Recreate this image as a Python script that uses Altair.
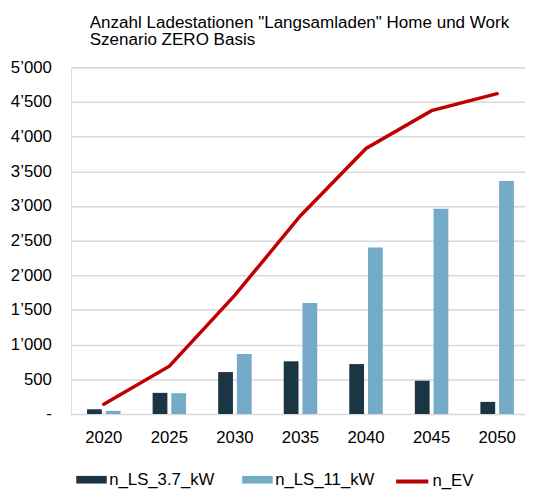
import altair as alt
import pandas as pd

years = ["2020", "2025", "2030", "2035", "2040", "2045", "2050"]
n_ls_37 = [68, 305, 605, 760, 720, 480, 175]
n_ls_11 = [45, 300, 865, 1600, 2400, 2960, 3360]
n_ev = [140, 690, 1715, 2860, 3830, 4375, 4620]
bar_series = ["n_LS_3.7_kW", "n_LS_11_kW"]
line_series = ["n_EV"]
y_ticks = [0, 500, 1000, 1500, 2000, 2500, 3000, 3500, 4000, 4500, 5000]
title_lines = ['Anzahl Ladestationen "Langsamladen" Home und Work', "Szenario ZERO Basis"]

bars_df = pd.DataFrame(
    [{"year": y, "series": bar_series[0], "value": v} for y, v in zip(years, n_ls_37)]
    + [{"year": y, "series": bar_series[1], "value": v} for y, v in zip(years, n_ls_11)]
)
line_df = pd.DataFrame({"year": years, "series": line_series[0], "value": n_ev})

FONT = "Liberation Sans"
TXT = "#000000"

x_enc = alt.X(
    "year:O",
    sort=years,
    scale=alt.Scale(range=[0, 466], paddingInner=0.489, paddingOuter=0.2445),
    axis=alt.Axis(
        title=None, labelAngle=0, domain=False, ticks=False, grid=False,
        labelFontSize=17, labelPadding=16, labelColor=TXT, labelFont=FONT,
    ),
)
y_enc = alt.Y(
    "value:Q",
    scale=alt.Scale(domain=[0, 5000], nice=False),
    axis=alt.Axis(
        title=None, values=y_ticks, tickCount=11, domain=False, ticks=False, grid=True,
        gridColor="#d9d9d9", gridWidth=1.5, labelOverlap=False,
        labelFontSize=17, labelPadding=20, labelColor=TXT, labelFont=FONT,
        labelExpr="datum.value == 0 ? '-\u00a0\u00a0' : replace(format(datum.value, ','), ',', '\u2019')",
    ),
)

bars = alt.Chart(bars_df).mark_bar().encode(
    x=x_enc,
    xOffset=alt.XOffset("series:N", sort=bar_series,
                        scale=alt.Scale(domain=bar_series, paddingInner=0.21, paddingOuter=0)),
    y=y_enc,
    color=alt.Color(
        "series:N",
        scale=alt.Scale(domain=bar_series, range=["#1c3543", "#74abc9"]),
        legend=alt.Legend(
            title=None, orient="none", legendX=5.3, legendY=403, direction="horizontal",
            symbolType="M-1,-0.25H1V0.25H-1Z", symbolSize=961, symbolStrokeWidth=0,
            labelFontSize=17, labelFont=FONT, labelColor=TXT, labelOffset=2.5,
            columnPadding=27.5, padding=0,
        ),
    ),
)

line = alt.Chart(line_df).mark_line(strokeWidth=3.5, strokeCap="round").encode(
    x=x_enc,
    y=y_enc,
    stroke=alt.Stroke(
        "series:N",
        scale=alt.Scale(domain=line_series, range=["#c00000"]),
        legend=alt.Legend(
            title=None, orient="none", legendX=328, legendY=402, direction="horizontal",
            symbolType="stroke", symbolSize=1069, symbolStrokeWidth=4,
            labelFontSize=17, labelFont=FONT, labelColor=TXT, labelOffset=2, padding=0,
        ),
    ),
)

chart = (
    alt.layer(bars, line)
    .properties(
        width=461,
        height=352,
        autosize=alt.AutoSizeParams(type="none"),
        padding={"left": 64, "top": 56.5, "right": 0, "bottom": 80},
        title=alt.TitleParams(
            text=title_lines, anchor="start", frame="group", fontSize=17.3,
            fontWeight="normal", color=TXT, font=FONT, lineHeight=18, dx=19, dy=-6,
        ),
    )
    .configure_view(stroke=None)
    .configure(font=FONT)
)

chart.save("out.html", embed_options={"renderer": "svg", "actions": False})
